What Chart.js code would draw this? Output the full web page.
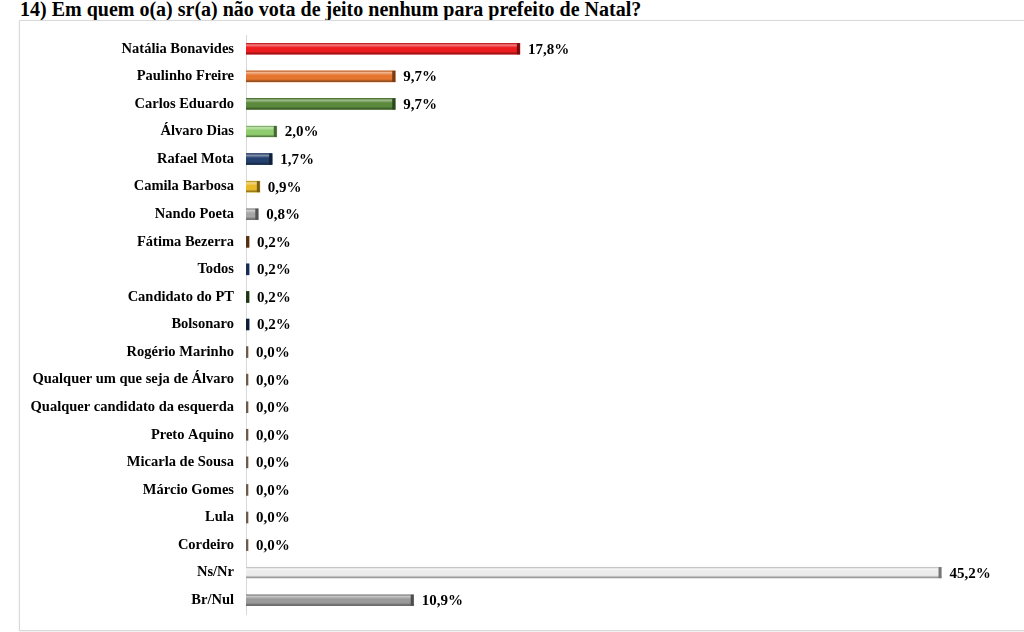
<!DOCTYPE html>
<html lang="pt">
<head>
    <meta charset="UTF-8">
    <title>Em quem o(a) sr(a) não vota de jeito nenhum para prefeito de Natal?</title>
    <script src="https://cdn.jsdelivr.net/npm/chart.js"></script>
    <style>
        body {
            margin: 0;
            padding: 0;
            width: 1024px;
            height: 632px;
            background: #fff;
            overflow: hidden;
            position: relative;
        }

        h1 {
            position: absolute;
            left: 20px;
            top: -3px;
            margin: 0;
            font-family: "Liberation Serif", "Times New Roman", serif;
            font-weight: bold;
            font-size: 20px;
            line-height: 24px;
            color: #000;
            white-space: nowrap;
        }

        .chart-box {
            position: absolute;
            left: 19px;
            top: 20px;
            width: 1010px;
            height: 609px;
            border: 1px solid #d9d9d9;
            box-shadow: 0 1px 2px rgba(0, 0, 0, 0.08);
        }

        canvas {
            display: block;
        }
    </style>
</head>
<body>
    <h1>14) Em quem o(a) sr(a) não vota de jeito nenhum para prefeito de Natal?</h1>
    <div class="chart-box">
        <canvas id="rejeicaoChart" width="1005" height="609"></canvas>
    </div>

    <script>
        // Categorias e valores (%)
        const candidatos = [
            'Natália Bonavides', 'Paulinho Freire', 'Carlos Eduardo', 'Álvaro Dias',
            'Rafael Mota', 'Camila Barbosa', 'Nando Poeta', 'Fátima Bezerra', 'Todos',
            'Candidato do PT', 'Bolsonaro', 'Rogério Marinho', 'Qualquer um que seja de Álvaro',
            'Qualquer candidato da esquerda', 'Preto Aquino', 'Micarla de Sousa', 'Márcio Gomes',
            'Lula', 'Cordeiro', 'Ns/Nr', 'Br/Nul'
        ];
        const percentuais = [
            17.8, 9.7, 9.7, 2.0, 1.7, 0.9, 0.8, 0.2, 0.2,
            0.2, 0.2, 0.0, 0.0, 0.0, 0.0, 0.0, 0.0, 0.0, 0.0, 45.2, 10.9
        ];
        const cores = [
            '#ec1c1f', '#e5762f', '#5b8a3d', '#8fcd6e', '#24406e', '#e9bb2a', '#a6a6a6',
            '#a0612e', '#34569a', '#3f6a2e', '#203866', '#6f5a4a', '#6f5a4a', '#6f5a4a',
            '#6f5a4a', '#6f5a4a', '#6f5a4a', '#6f5a4a', '#6f5a4a', '#ececec', '#9a9a9a'
        ];

        function shade(hex, amt) {
            const n = parseInt(hex.slice(1), 16);
            let r = (n >> 16) & 255, g = (n >> 8) & 255, b = n & 255;
            if (amt >= 0) {
                r += (255 - r) * amt; g += (255 - g) * amt; b += (255 - b) * amt;
            } else {
                r *= 1 + amt; g *= 1 + amt; b *= 1 + amt;
            }
            return 'rgb(' + Math.round(r) + ',' + Math.round(g) + ',' + Math.round(b) + ')';
        }

        // Efeito chanfrado das barras + rótulos de valor
        const bevelPlugin = {
            id: 'bevel',
            afterDatasetsDraw(chart) {
                const ctx = chart.ctx;
                const meta = chart.getDatasetMeta(0);
                meta.data.forEach((bar, i) => {
                    const p = bar.getProps(['x', 'y', 'base', 'height'], true);
                    const x0 = p.base, x1 = p.x;
                    const top = p.y - p.height / 2, h = p.height;
                    const base = cores[i];
                    const w = x1 - x0;
                    if (w > 3) {
                        const g = ctx.createLinearGradient(0, top, 0, top + h);
                        g.addColorStop(0, shade(base, -0.25));
                        g.addColorStop(0.15, shade(base, 0.45));
                        g.addColorStop(0.4, base);
                        g.addColorStop(0.75, base);
                        g.addColorStop(1, shade(base, -0.45));
                        ctx.save();
                        ctx.fillStyle = g;
                        ctx.fillRect(x0, top, w, h);
                        ctx.fillStyle = shade(base, -0.5);
                        ctx.fillRect(x1 - 3, top, 3, h);
                        ctx.restore();
                    }
                });
                ctx.save();
                ctx.font = 'bold 15px "Liberation Serif", "Times New Roman", serif';
                ctx.fillStyle = '#000';
                ctx.textBaseline = 'middle';
                meta.data.forEach((bar, i) => {
                    const txt = percentuais[i].toFixed(1).replace('.', ',') + '%';
                    ctx.fillText(txt, bar.x + 8, bar.y + 1);
                });
                ctx.restore();
            }
        };

        const ctx = document.getElementById('rejeicaoChart').getContext('2d');
        new Chart(ctx, {
            type: 'bar',
            data: {
                labels: candidatos,
                datasets: [{
                    data: percentuais,
                    backgroundColor: cores,
                    borderWidth: 0,
                    barThickness: 11,
                    minBarLength: 2
                }]
            },
            options: {
                indexAxis: 'y',
                responsive: false,
                animation: false,
                layout: {
                    padding: { top: 14, bottom: 16, left: 0, right: 25 }
                },
                plugins: {
                    legend: { display: false },
                    tooltip: { enabled: false }
                },
                scales: {
                    x: {
                        display: false,
                        min: 0,
                        max: 49
                    },
                    y: {
                        afterFit(scale) {
                            scale.width = 226;
                            scale.paddingTop = 0;
                            scale.paddingBottom = 0;
                        },
                        grid: { display: false, drawTicks: false },
                        border: { display: true, color: '#d9d9d9', width: 1 },
                        ticks: {
                            padding: 12,
                            color: '#000',
                            font: {
                                family: '"Liberation Serif", "Times New Roman", serif',
                                weight: 'bold',
                                size: 14.5
                            }
                        }
                    }
                }
            },
            plugins: [bevelPlugin]
        });
    </script>
</body>
</html>
